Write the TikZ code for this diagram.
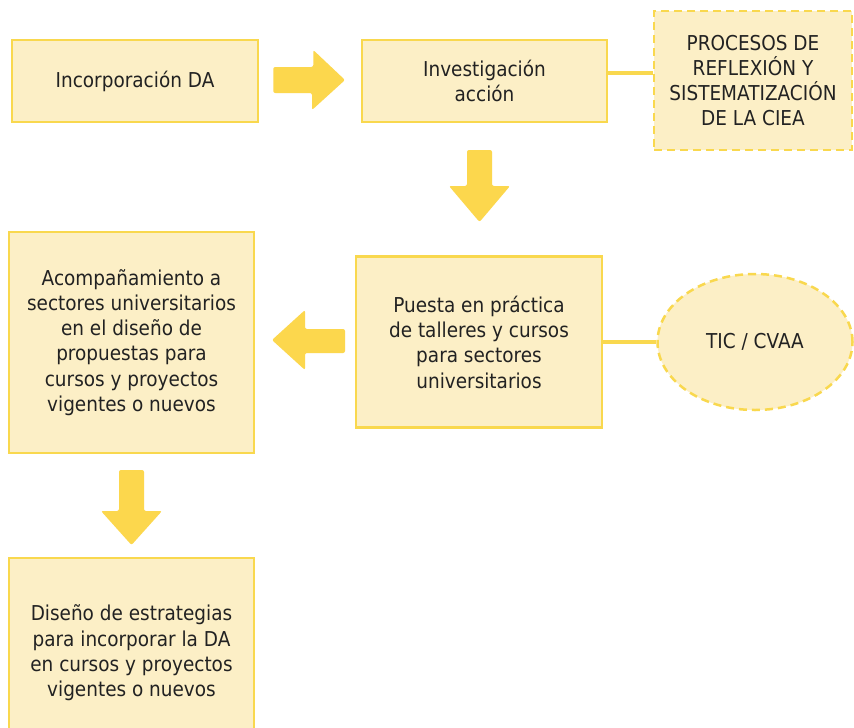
\documentclass[tikz,border=0pt]{standalone}
\usepackage{fontspec}
\setmainfont[FakeStretch=0.9]{DejaVu Sans}
\usetikzlibrary{shapes.geometric}
\definecolor{boxfill}{HTML}{FCEFC6}
\definecolor{boxline}{HTML}{F9D84E}
\definecolor{arrowc}{HTML}{FCD74D}
\definecolor{txt}{HTML}{222222}
\begin{document}
\begin{tikzpicture}[x=1pt,y=-1pt,
  box/.style={draw=boxline, fill=boxfill, line width=2.5pt, align=center, text=txt, inner sep=0pt, font=\fontsize{20.5}{25.3}\selectfont},
  link/.style={draw=boxline, line width=4pt},
  blockarrow/.style={fill=arrowc, rounded corners=2pt}]
\useasboundingbox (0,0) rectangle (854,728);
\fill[white] (0,0) rectangle (854,728);
% boxes
\node[box, minimum width=246, minimum height=82] (b1) at (135,81) {Incorporación DA};
\node[box, minimum width=245, minimum height=82] (b2) at (484.5,81) {Investigación\\acción};
\node[box, dashed, dash pattern=on 8pt off 5pt, minimum width=198, minimum height=139] (b3) at (753,80.5) {PROCESOS DE\\REFLEXIÓN Y\\SISTEMATIZACIÓN\\DE LA CIEA};
\node[box, minimum width=246, minimum height=171] (b4) at (479,342) {Puesta en práctica\\de talleres y cursos\\para sectores\\universitarios};
\node[box, ellipse, dashed, dash pattern=on 8pt off 5pt, minimum width=195, minimum height=136] (b5) at (755,342) {TIC / CVAA};
\node[box, minimum width=245, minimum height=221] (b6) at (131.5,342.5) {Acompañamiento a\\sectores universitarios\\en el diseño de\\propuestas para\\cursos y proyectos\\vigentes o nuevos};
\node[box, minimum width=245, minimum height=190] (b7) at (131.5,653) {Diseño de estrategias\\para incorporar la DA\\en cursos y proyectos\\vigentes o nuevos};
% connector lines
\draw[link] (b2.east |- 0,73) -- (b3.west |- 0,73);
\draw[link] (b4.east) -- (b5.west);
% block arrows
\coordinate (a1) at (b1.east);
\fill[blockarrow] ([xshift=14]a1 |- 0,67) -- ++(40,0) -- ++(0,-17) -- (345,80) -- (312,110) -- (312,93) -- ([xshift=14]a1 |- 0,93) -- cycle;
\fill[blockarrow] (467,150) -- (492,150) -- (492,186) -- (510,186) -- (479.5,222) -- (449,186) -- (467,186) -- cycle;
\fill[blockarrow] (345,329) -- (305,329) -- (305,310) -- (272,340) -- (305,370) -- (305,353) -- (345,353) -- cycle;
\fill[blockarrow] (119,470) -- (144,470) -- (144,511) -- (162,511) -- (131.5,545) -- (101,511) -- (119,511) -- cycle;
\end{tikzpicture}
\end{document}
